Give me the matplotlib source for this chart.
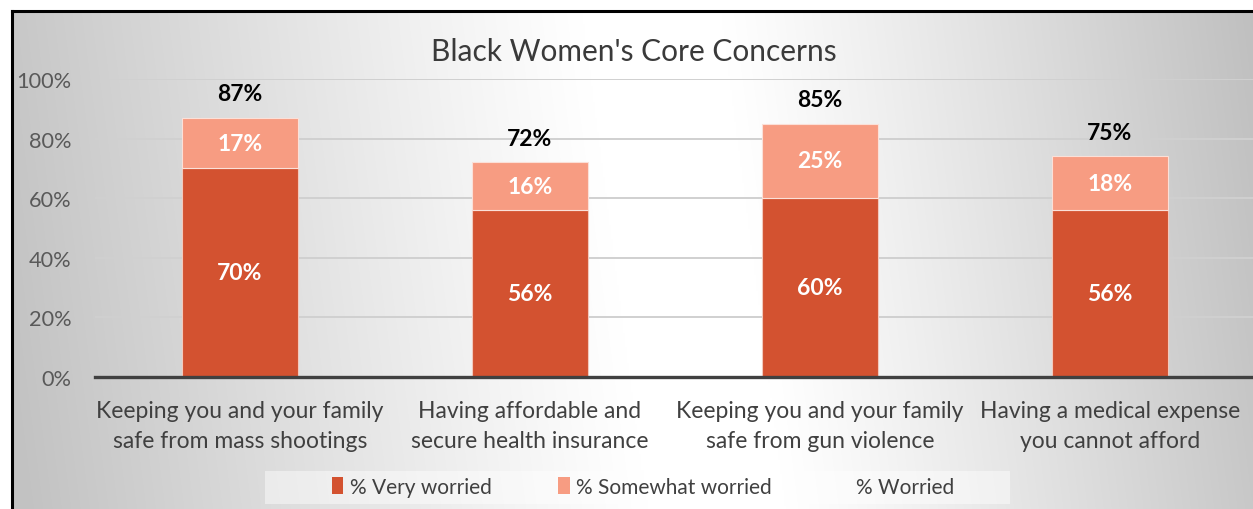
import numpy as np
import matplotlib
matplotlib.use("Agg")
import matplotlib.pyplot as plt
from matplotlib.patches import Patch, Rectangle

plt.rcParams['font.family'] = ['Lato', 'DejaVu Sans']

categories = ["Keeping you and your family\nsafe from mass shootings",
              "Having affordable and\nsecure health insurance",
              "Keeping you and your family\nsafe from gun violence",
              "Having a medical expense\nyou cannot afford"]
very_worried = [70, 56, 60, 56]
somewhat_worried = [17, 16, 25, 18]
worried = [87, 72, 85, 75]
yticks = [0, 20, 40, 60, 80, 100]
title = "Black Women's Core Concerns"

W, H = 1253, 510
fig = plt.figure(figsize=(W / 100, H / 100), dpi=100)
fig.patch.set_facecolor('white')

# gradient background inside frame (white band in the middle, grey to the sides)
fx0, fy1 = 12 / W, (H - 12) / H
bg = fig.add_axes([fx0, 0, 1 - fx0, fy1], zorder=0)
nx, ny = 620, 250
xs = np.linspace(12, W, nx)
ys = np.linspace(12, H, ny)
X, Y = np.meshgrid(xs, ys)
xc = 652 + 0.13 * (Y - 15)
half = 70
dl = np.clip((xc - half) - X, 0, None)
dr = np.clip(X - (xc + half), 0, None)
fl = np.clip(dl / 565, 0, 1.1)
fr = np.clip(dr / 525, 0, 1.1)
fl = fl ** 2 * (1.6 - 0.6 * fl) if False else fl ** 1.1
fr = fr ** 1.1
v = 1.0 - 0.215 * fl - 0.245 * fr
img = np.dstack([v, v, v])
bg.imshow(img, aspect='auto', extent=[0, 1, 0, 1], origin='upper', interpolation='bilinear')
bg.set_axis_off()
# frame lines (left and top)
fig.add_artist(plt.Line2D([fx0, fx0], [0, fy1], color='black', lw=2.2, transform=fig.transFigure))
fig.add_artist(plt.Line2D([fx0, 1], [fy1, fy1], color='black', lw=2.2, transform=fig.transFigure))

ax_left = 95 / W
ax_bottom = (H - 378) / H
ax_top = (H - 80) / H
ax = fig.add_axes([ax_left, ax_bottom, 1 - ax_left + 2 / W, ax_top - ax_bottom], zorder=2)
ax.patch.set_alpha(0)

x = np.arange(len(categories))
c_very = '#D35230'
c_some = '#F79C82'
w = 0.4
ax.bar(x, very_worried, width=w, color=c_very, edgecolor='#F3C9BC', linewidth=0.8, zorder=3)
ax.bar(x, somewhat_worried, width=w, bottom=very_worried, color=c_some, edgecolor='#FBE0D8', linewidth=0.8, zorder=3)

lab_fs = 16.5
for i in range(len(x)):
    ax.text(x[i], very_worried[i] / 2, f"{very_worried[i]}%", ha='center', va='center',
            color='white', fontsize=lab_fs, fontweight='bold', zorder=4)
    ax.text(x[i], very_worried[i] + somewhat_worried[i] / 2, f"{somewhat_worried[i]}%",
            ha='center', va='center', color='white', fontsize=lab_fs, fontweight='bold', zorder=4)
    top = very_worried[i] + somewhat_worried[i]
    ax.text(x[i], top + 8.0, f"{worried[i]}%", ha='center', va='center',
            color='black', fontsize=lab_fs, fontweight='bold', zorder=4, clip_on=False)

ax.set_xlim(-0.5, 3.5)
ax.set_ylim(0, 100)
ax.set_yticks(yticks)
ax.set_yticklabels([f"{t}%" for t in yticks], color='#595959', fontsize=15.7)
ax.yaxis.grid(True, color='#D0D0D0', linewidth=1.4, zorder=1)
ax.set_axisbelow(True)
ax.tick_params(axis='y', length=0, pad=17)
ax.tick_params(axis='x', length=0, pad=16.5)
ax.set_xticks(x)
ax.set_xticklabels(categories, color='#404040', fontsize=16.5, linespacing=1.55)
for s in ['top', 'right', 'left']:
    ax.spines[s].set_visible(False)
ax.spines['bottom'].set_color('#404040')
ax.spines['bottom'].set_linewidth(2.4)
ax.spines['bottom'].set_zorder(5)

fig.text(634 / W, (H - 52) / H, title, ha='center', va='center', fontsize=21.5, color='#3A3A3A')

# legend background box
fig.add_artist(Rectangle((265 / W, (H - 505) / H), (1010 - 265) / W, 33 / H,
                         transform=fig.transFigure, facecolor='white', alpha=0.45,
                         edgecolor='none', zorder=1))
handles = [Patch(facecolor=c_very, edgecolor='none'),
           Patch(facecolor=c_some, edgecolor='none'),
           Patch(facecolor='none', edgecolor='none')]
labels = ["% Very worried", "% Somewhat worried", "% Worried"]
leg = fig.legend(handles, labels, loc='center', bbox_to_anchor=(643 / W, (H - 488) / H),
                 ncol=3, frameon=False, fontsize=15, handlelength=0.55, handleheight=0.85,
                 handletextpad=0.3, columnspacing=3.2, borderpad=0.3)
for t in leg.get_texts():
    t.set_color('#404040')

fig.savefig('out.png', dpi=100)
